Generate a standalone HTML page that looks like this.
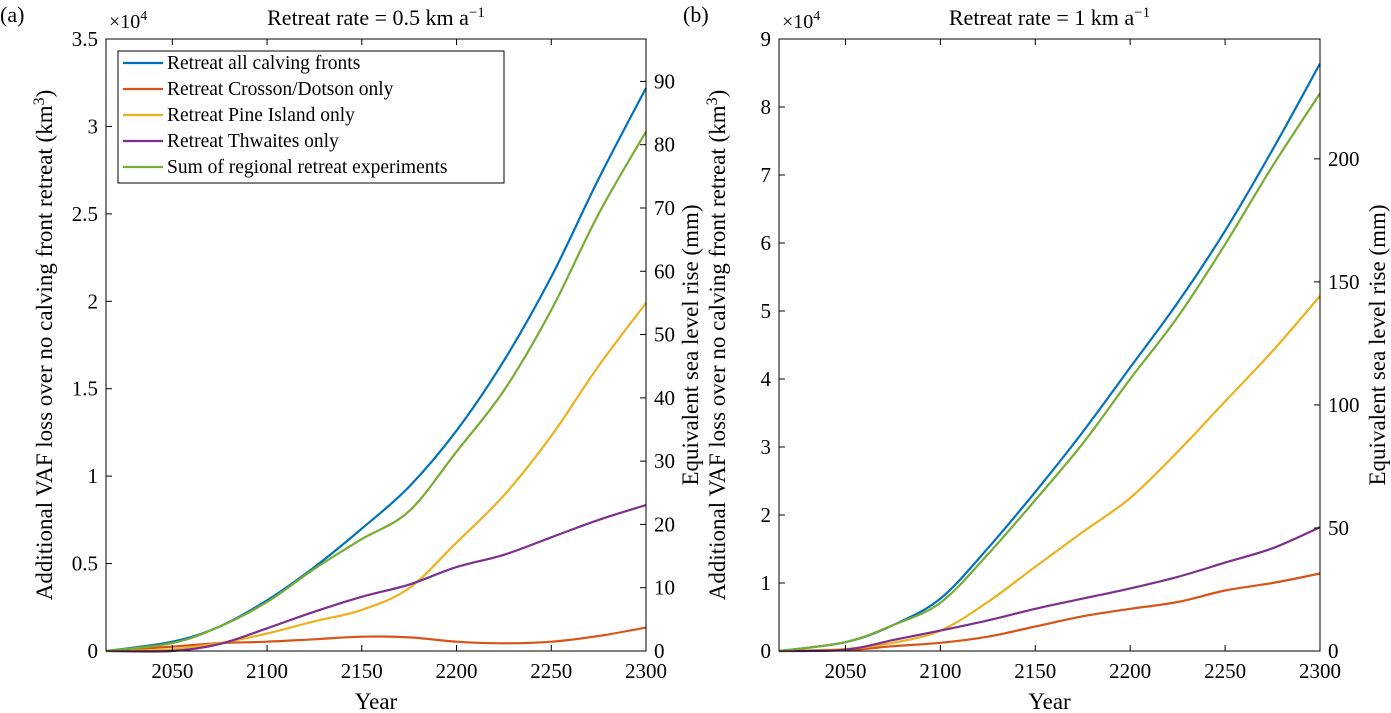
<!DOCTYPE html>
<html><head><meta charset="utf-8"><style>
body{margin:0;background:#fff}
svg{display:block;font-family:"Liberation Serif",serif}
</style></head><body>
<svg id="c" width="1391" height="713"></svg>
<script>
const years=[2015,2050,2075,2100,2125,2150,2175,2200,2225,2250,2275,2300];
const aAll=[0,0.053,0.14,0.29,0.48,0.7,0.94,1.26,1.66,2.14,2.7,3.22];
const aSum=[0,0.045,0.14,0.28,0.47,0.64,0.8,1.14,1.49,1.95,2.5,2.97];
const aPine=[0,0.01,0.045,0.1,0.17,0.235,0.36,0.62,0.89,1.23,1.63,1.99];
const aThw=[0,0.0,0.04,0.13,0.225,0.31,0.38,0.48,0.55,0.65,0.75,0.835];
const aCro=[0,0.025,0.045,0.053,0.067,0.082,0.078,0.053,0.044,0.053,0.086,0.134];
const bAll=[0,0.13,0.38,0.77,1.51,2.34,3.22,4.17,5.12,6.18,7.37,8.64];
const bSum=[0,0.13,0.38,0.71,1.42,2.22,3.05,4.0,4.91,5.98,7.13,8.2];
const bPine=[0,0.03,0.12,0.3,0.72,1.24,1.75,2.25,2.93,3.67,4.41,5.22];
const bThw=[0,0.02,0.16,0.3,0.45,0.62,0.77,0.92,1.09,1.3,1.51,1.82];
const bCro=[0,0.01,0.07,0.12,0.21,0.36,0.51,0.62,0.72,0.89,1.0,1.14];
const xTicks=[2050,2100,2150,2200,2250,2300];
const aYTicks=[0,0.5,1,1.5,2,2.5,3,3.5];
const aYLabels=["0","0.5","1","1.5","2","2.5","3","3.5"];
const aRTicks=[0,10,20,30,40,50,60,70,80,90];
const bYTicks=[0,1,2,3,4,5,6,7,8,9];
const bRTicks=[0,50,100,150,200];
const colors=["#0072BD","#D95319","#EDB120","#7E2F8E","#77AC30"];
const names=["Retreat all calving fronts","Retreat Crosson/Dotson only","Retreat Pine Island only","Retreat Thwaites only","Sum of regional retreat experiments"];
const NS="http://www.w3.org/2000/svg";
const svg=document.getElementById('c');
function mk(t,a,p){const e=document.createElementNS(NS,t);for(const k in a)e.setAttribute(k,a[k]);(p||svg).appendChild(e);return e;}
function txt(s,a,p){const e=mk('text',a,p);e.textContent=s;return e;}
function smooth(pts){let d='M'+pts[0][0].toFixed(1)+','+pts[0][1].toFixed(1);
  for(let i=0;i<pts.length-1;i++){const p0=pts[Math.max(0,i-1)],p1=pts[i],p2=pts[i+1],p3=pts[Math.min(pts.length-1,i+2)];
    const c1=[p1[0]+(p2[0]-p0[0])/6,p1[1]+(p2[1]-p0[1])/6],c2=[p2[0]-(p3[0]-p1[0])/6,p2[1]-(p3[1]-p1[1])/6];
    d+='C'+c1.map(v=>v.toFixed(1))+' '+c2.map(v=>v.toFixed(1))+' '+p2.map(v=>v.toFixed(1));}
  return d;}
function panel(o){
  const g=mk('g',{});
  
  
  const L=o.x0,R=o.x1,T=39,B=651;
  const X=v=>L+(v-2015)/(2300-2015)*(R-L);
  const Y=v=>B-v/o.ymax*(B-T);
  const YR=v=>B-v/o.rmax*(B-T);
  o.series.forEach((s,k)=>{
    const p=mk('path',{d:smooth(s.map((v,i)=>[X(years[i]),Y(v)])),fill:'none',stroke:colors[k],'stroke-width':2.2,'stroke-linejoin':'round'},g);
    
    
  });
  mk('rect',{x:L,y:T,width:R-L,height:B-T,fill:'none',stroke:'#000','stroke-width':1},g);
  xTicks.forEach(t=>{const x=X(t);mk('line',{x1:x,x2:x,y1:B,y2:B-6,stroke:'#000'},g);mk('line',{x1:x,x2:x,y1:T,y2:T+6,stroke:'#000'},g);
    const e=txt(String(t),{x:x,y:B+27,'font-size':21,'text-anchor':'middle'},g);});
  o.yt.forEach((t,i)=>{const y=Y(t);mk('line',{x1:L,x2:L+6,y1:y,y2:y,stroke:'#000'},g);
    const e=txt(o.yl[i],{x:L-8,y:y+7,'font-size':21,'text-anchor':'end'},g);});
  o.rt.forEach(t=>{const y=YR(t);mk('line',{x1:R,x2:R-6,y1:y,y2:y,stroke:'#000'},g);
    const e=txt(String(t),{x:R+8,y:y+7,'font-size':21},g);});
  const t=txt(o.title,{x:(L+R)/2,y:25,'font-size':22,'text-anchor':'middle'},g);
  
  const sup=mk('tspan',{'font-size':15,dy:-8},t);sup.textContent='−1';
  const m=txt('×10',{x:L+3,y:28,'font-size':20},g);const m2=mk('tspan',{'font-size':14,dy:-8},m);m2.textContent='4';
  
  const pl=txt(o.letter,{x:o.lx,y:22,'font-size':22},g);
  const xl=txt('Year',{x:(L+R)/2,y:709,'font-size':23,'text-anchor':'middle'},g);
  const yl=txt('Additional VAF loss over no calving front retreat (km',{x:0,y:0,'font-size':23,'text-anchor':'middle',transform:`translate(${L-54},345) rotate(-90)`},g);
  const s3=mk('tspan',{'font-size':16,dy:-8},yl);s3.textContent='3';const s4=mk('tspan',{dy:8},yl);s4.textContent=')';
  
  const rl=txt('Equivalent sea level rise (mm)',{x:0,y:0,'font-size':23,'text-anchor':'middle',transform:`translate(${o.rlx},345) rotate(-90)`},g);
  
}
panel({id:'panel-a',x0:106,x1:646,ymax:3.5,rmax:96.7,yt:aYTicks,yl:aYLabels,rt:aRTicks,series:[aAll,aCro,aPine,aThw,aSum],title:'Retreat rate = 0.5 km a',letter:'(a)',lx:0,rlx:698});
panel({id:'panel-b',x0:779,x1:1320,ymax:9,rmax:248.7,yt:bYTicks,yl:bYTicks.map(String),rt:bRTicks,series:[bAll,bCro,bPine,bThw,bSum],title:'Retreat rate = 1 km a',letter:'(b)',lx:683,rlx:1385});
const lg=mk('g',{});


mk('rect',{x:118,y:51,width:386,height:132,fill:'#fff',stroke:'#000'},lg);
names.forEach((n,i)=>{const y=63+i*26;
  mk('line',{x1:123,x2:163,y1:y,y2:y,stroke:colors[i],'stroke-width':2.2},lg);
  const e=txt(n,{x:167,y:y+6,'font-size':19.5},lg);
  
  });
</script>
</body></html>
